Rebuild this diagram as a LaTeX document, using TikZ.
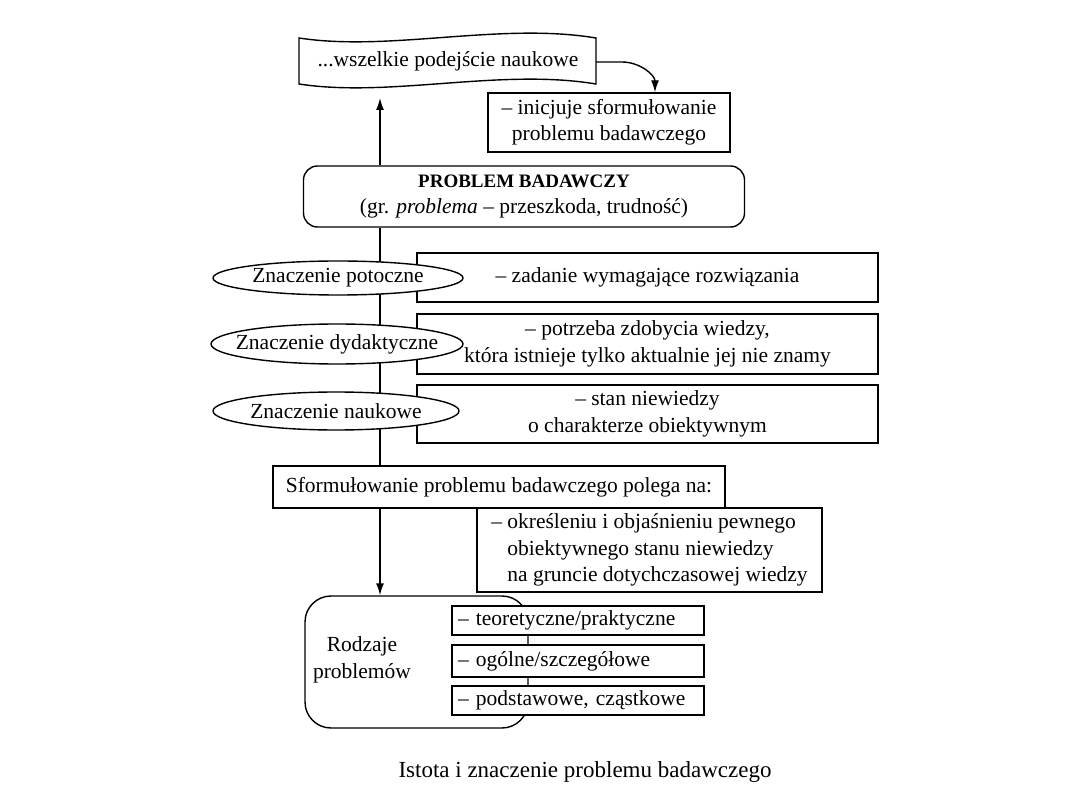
\documentclass[tikz,border=0pt]{standalone}
\usepackage{fontspec}
\setmainfont{Liberation Serif}
\usetikzlibrary{shapes.geometric,arrows.meta}
\begin{document}
\begin{tikzpicture}[x=1pt,y=-1pt,
  every node/.style={font=\fontsize{21.5}{26.5}\selectfont},
  ln/.style={line width=1.4pt},
  rbox/.style={draw, fill=white, line width=1.4pt, inner sep=0pt, align=center},
  ell/.style={draw, fill=white, ellipse, line width=1.4pt, inner sep=0pt},
  sub/.style={rbox, minimum width=252pt, text width=240pt, align=left},
  arr/.style={line width=1.4pt, -{Latex[length=12pt,width=8pt]}}
]
\useasboundingbox (0,0) rectangle (1080,810);
\coordinate (vx) at (380,0);

% flag-shaped top box
\draw[ln, fill=white] (299,38) .. controls (390,52) and (500,22) .. (596,38) -- (596,84)
   .. controls (500,68) and (390,98) .. (299,84) -- cycle;
\node (top) at (448,61) {...wszelkie podejście naukowe};
\coordinate (topb) at (380,98);
\coordinate (flagR) at (596,62);

\node[rbox, minimum width=242pt, minimum height=59pt] (ini) at (609,122.5)
  {– inicjuje sformułowanie\\problemu badawczego};

\draw[arr] (flagR) -- ++(26,0) to[out=0,in=90] ([xshift=46pt]ini.north);

\node[rbox, rounded corners=14pt, minimum width=441pt, minimum height=61pt] (pb) at (524,196.5)
  {{\fontsize{19}{26.5}\selectfont\bfseries PROBLEM BADAWCZY}\\(gr. \textit{problema} – przeszkoda, trudność)};

\draw[arr] (pb.north -| vx) -- (topb);

\node[rbox, minimum width=452pt, minimum height=42pt] (sf) at (499,487)
  {Sformułowanie problemu badawczego polega na:};

% central vertical line (behind ellipses)
\draw[ln] (pb.south -| vx) -- (sf.north -| vx);

% right rectangles
\node[rbox, minimum width=461pt, minimum height=49pt] (r1) at (647.5,277.5)
  {– zadanie wymagające rozwiązania};
\node[rbox, minimum width=461pt, minimum height=60pt] (r2) at (647.5,344)
  {– potrzeba zdobycia wiedzy,\\która istnieje tylko aktualnie jej nie znamy};
\node[rbox, minimum width=461pt, minimum height=58pt] (r3) at (647.5,414)
  {– stan niewiedzy\\o charakterze obiektywnym};

% ellipses
\node[ell, minimum width=250pt, minimum height=34pt] (e1) at (338,278) {\makebox[0pt]{Znaczenie potoczne}};
\node[ell, minimum width=252pt, minimum height=40pt] (e2) at (337,344) {\makebox[0pt]{Znaczenie dydaktyczne}};
\node[ell, minimum width=246pt, minimum height=38pt] (e3) at (336,411) {\makebox[0pt]{Znaczenie naukowe}};

% okreslenie box
\node[rbox, minimum width=345pt, minimum height=84pt, align=left] (ok) at (649.5,550)
  {– określeniu i objaśnieniu pewnego\hspace{14pt}\\\phantom{– }obiektywnego stanu niewiedzy\\\phantom{– }na gruncie dotychczasowej wiedzy};

% Rodzaje problemow
\node[draw, line width=1.4pt, rounded corners=26pt, minimum width=223pt, minimum height=132pt] (rod) at (416.5,662) {};
\node[align=center] (rodl) at (362,660) {Rodzaje\\problemów};
\draw[arr] (sf.south -| vx) -- (rod.north -| vx);

\node[sub, minimum height=29pt] (s1) at (578,620.5) {– teoretyczne/praktyczne};
\node[sub, minimum height=32pt] (s2) at (578,661) {– ogólne/szczegółowe};
\node[sub, minimum height=29pt] (s3) at (578,700.5) {– podstawowe, cząstkowe};

\node[font=\fontsize{23}{27}\selectfont] (cap) at (585,772) {Istota i znaczenie problemu badawczego};
\end{tikzpicture}
\end{document}
